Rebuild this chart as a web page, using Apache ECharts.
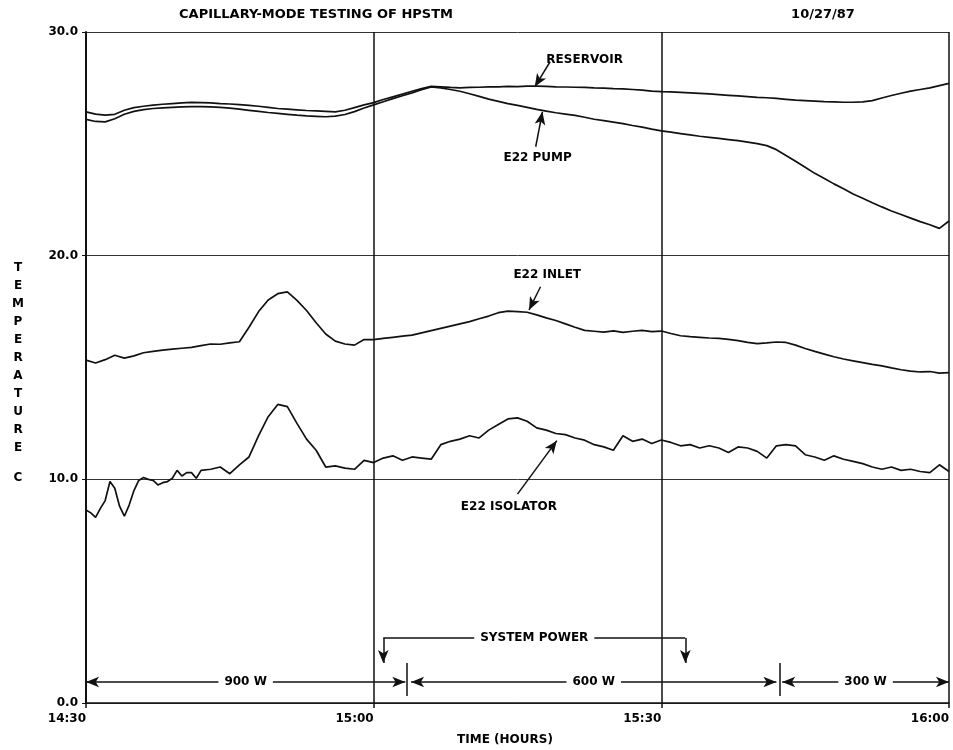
<!DOCTYPE html>
<html>
<head>
<meta charset="utf-8">
<script src="https://cdn.jsdelivr.net/npm/echarts@6/dist/echarts.min.js"></script>
<style>html,body{margin:0;padding:0;background:#fff}#c{width:953px;height:750px}</style>
</head>
<body>
<div id="c"></div>
<script>
// ---- DATA (minutes after 14:30, temperature in C) ----
const xTickLabels = ['14:30', '15:00', '15:30', '16:00'];
const yTickLabels = ['0.0', '10.0', '20.0', '30.0'];

const minutes = [0,1,2,3,4,5,6,7,8,9,10,11,12,13,14,15,16,17,18,19,20,21,22,23,24,25,26,27,28,29,30,
  31,32,33,34,35,36,37,38,39,40,41,42,43,44,45,46,47,48,49,50,51,52,53,54,55,56,57,58,59,60,
  61,62,63,64,65,66,67,68,69,70,71,72,73,74,75,76,77,78,79,80,81,82,83,84,85,86,87,88,89,90];

const reservoir = [26.43,26.33,26.28,26.32,26.50,26.62,26.68,26.73,26.77,26.80,26.83,26.85,26.84,26.83,26.80,26.78,26.75,26.72,26.68,26.63,26.58,
  26.55,26.52,26.49,26.47,26.45,26.43,26.50,26.62,26.74,26.84,
  26.98,27.10,27.22,27.35,27.47,27.57,27.55,27.52,27.50,27.52,27.53,27.55,27.55,27.57,27.56,27.58,27.58,27.57,27.55,27.54,
  27.53,27.52,27.50,27.49,27.47,27.46,27.43,27.40,27.36,27.33,
  27.32,27.30,27.28,27.26,27.23,27.20,27.17,27.14,27.11,27.08,27.06,27.03,26.99,26.95,26.93,26.91,26.89,26.88,26.86,26.86,
  26.88,26.93,27.05,27.16,27.26,27.36,27.43,27.50,27.60,27.70];

const pump = [26.09,26.00,25.98,26.12,26.32,26.45,26.53,26.58,26.61,26.63,26.65,26.66,26.66,26.65,26.63,26.60,26.55,26.50,26.45,26.40,26.36,
  26.32,26.28,26.25,26.23,26.21,26.24,26.31,26.44,26.60,26.74,
  26.88,27.02,27.15,27.28,27.42,27.54,27.50,27.43,27.35,27.24,27.12,27.00,26.90,26.80,26.72,26.63,26.54,26.46,26.39,26.33,
  26.27,26.19,26.10,26.04,25.97,25.90,25.82,25.75,25.66,25.58,
  25.52,25.46,25.40,25.34,25.29,25.24,25.19,25.14,25.08,25.01,24.92,24.74,24.48,24.22,23.95,23.68,23.45,23.21,22.99,22.76,
  22.57,22.37,22.18,22.00,21.84,21.68,21.52,21.38,21.22,21.55];

const inlet = [15.33,15.20,15.35,15.55,15.42,15.52,15.66,15.72,15.78,15.82,15.86,15.90,15.98,16.05,16.04,16.10,16.15,16.80,17.50,18.02,18.30,
  18.38,18.00,17.55,17.00,16.50,16.18,16.05,16.00,16.25,16.25,
  16.30,16.35,16.40,16.45,16.55,16.65,16.75,16.85,16.95,17.05,17.18,17.30,17.45,17.52,17.50,17.47,17.35,17.22,17.10,16.95,
  16.80,16.66,16.62,16.58,16.64,16.57,16.62,16.66,16.60,16.63,
  16.52,16.42,16.38,16.35,16.32,16.30,16.26,16.20,16.12,16.07,16.10,16.14,16.12,16.00,15.85,15.72,15.60,15.48,15.38,15.30,
  15.22,15.14,15.07,14.98,14.90,14.84,14.80,14.82,14.75,14.77];

const isoMinutes = [0,0.5,1,1.5,2,2.5,3,3.5,4,4.5,5,5.5,6,6.5,7,7.5,8,8.5,9,9.5,10,10.5,11,11.5,12,
  13,14,15,16,17,18,19,20,21,22,23,24,25,26,27,28,29,30,
  31,32,33,34,35,36,37,38,39,40,41,42,43,44,45,46,47,48,49,50,51,52,53,54,55,56,57,58,59,60,
  61,62,63,64,65,66,67,68,69,70,71,72,73,74,75,76,77,78,79,80,81,82,83,84,85,86,87,88,89,90];

const isolator = [8.63,8.50,8.30,8.70,9.05,9.90,9.60,8.80,8.35,8.85,9.50,9.95,10.08,10.00,9.95,9.75,9.85,9.90,10.05,10.40,10.15,10.30,10.30,10.05,10.40,
  10.45,10.55,10.25,10.65,11.00,11.95,12.80,13.35,13.25,12.50,11.80,11.30,10.55,10.60,10.50,10.45,10.85,10.75,
  10.95,11.05,10.85,11.00,10.95,10.90,11.55,11.70,11.80,11.95,11.85,12.20,12.45,12.70,12.75,12.60,12.30,12.20,12.05,12.00,
  11.85,11.75,11.55,11.45,11.30,11.95,11.70,11.80,11.60,11.76,
  11.65,11.50,11.55,11.40,11.50,11.40,11.20,11.45,11.40,11.25,10.95,11.50,11.55,11.50,11.10,11.00,10.85,11.05,10.90,10.80,
  10.70,10.55,10.45,10.55,10.40,10.45,10.35,10.30,10.65,10.35];

// annotation labels (data coordinates: minute, temperature)
const seriesLabels = ['RESERVOIR', 'E22 PUMP', 'E22 INLET', 'E22 ISOLATOR'];
const labelPos = [[52.0, 28.74], [47.1, 24.36], [48.1, 19.13], [44.1, 8.76]];
const pointerFrom = [[48.4, 28.67], [46.9, 24.87], [47.4, 18.61], [45.0, 9.34]];
const pointerTo = [[46.8, 27.55], [47.6, 26.43], [46.2, 17.57], [49.1, 11.73]];

const powerLabels = ['900 W', '600 W', '300 W'];
const powerStart = [0, 33.9, 72.6];
const powerEnd = [33.3, 72.0, 90];
const powerLevel = 0.94;
const powerDividers = [33.5, 72.3];
const dividerRange = [0.31, 1.79];
const systemPowerLabel = 'SYSTEM POWER';
const systemPowerFrom = 31.0;
const systemPowerTo = 62.5;
const systemPowerLevel = 2.91;
const systemPowerTip = 1.79;

// ---- CHART ----
const FONT = '"DejaVu Sans", "Liberation Sans", Arial, sans-serif';
const txt = {color: '#000', fontFamily: FONT, fontWeight: 'bold', fontSize: 12};
const zip = (xs, ys) => xs.map((x, i) => [x, ys[i]]);

const lineStyleData = {color: '#111', width: 1.7};
function lineSeries(name, xs, ys, extra) {
  return Object.assign({
    name, type: 'line', data: zip(xs, ys), showSymbol: false, symbol: 'none',
    lineStyle: lineStyleData, z: 5, silent: true
  }, extra || {});
}

const midLabel = text => ({show: true, formatter: text, position: 'insideMiddle', backgroundColor: '#fff', padding: [1, 6], ...txt});

const arrowLines = [];
for (let i = 0; i < seriesLabels.length; i++) {
  arrowLines.push([{coord: pointerFrom[i], symbol: 'none'}, {coord: pointerTo[i], symbol: 'arrow', symbolSize: [8, 13]}]);
}
for (let i = 0; i < powerLabels.length; i++) {
  arrowLines.push([
    {coord: [powerStart[i], powerLevel], symbol: 'arrow', symbolSize: [8, 13], label: midLabel(powerLabels[i])},
    {coord: [powerEnd[i], powerLevel], symbol: 'arrow', symbolSize: [8, 13]}
  ]);
}
powerDividers.forEach(d => {
  arrowLines.push([{coord: [d, dividerRange[0]], symbol: 'none'}, {coord: [d, dividerRange[1]], symbol: 'none'}]);
});
arrowLines.push([
  {coord: [systemPowerFrom, systemPowerLevel], symbol: 'none', label: midLabel(systemPowerLabel)},
  {coord: [systemPowerTo, systemPowerLevel], symbol: 'none'}
]);
[systemPowerFrom, systemPowerTo].forEach(m => {
  arrowLines.push([{coord: [m, systemPowerLevel], symbol: 'none'}, {coord: [m, systemPowerTip], symbol: 'arrow', symbolSize: [8, 13]}]);
});

const chart = echarts.init(document.getElementById('c'), null, {renderer: 'canvas'});
chart.setOption({
  animation: false,
  backgroundColor: '#fff',
  grid: {left: 86, right: 4, top: 32, bottom: 47, show: false},
  xAxis: {
    type: 'value', min: 0, max: 90, interval: 30,
    axisLine: {show: true, onZero: false, lineStyle: {color: '#111', width: 1.5}},
    axisTick: {show: true, length: 5, lineStyle: {color: '#111', width: 1.5}},
    axisLabel: {formatter: v => xTickLabels[Math.round(v / 30)], align: 'right', margin: 10, ...txt},
    splitLine: {show: true, lineStyle: {color: '#111', width: 1.5}}
  },
  yAxis: {
    type: 'value', min: 0, max: 30, interval: 10,
    axisLine: {show: true, lineStyle: {color: '#111', width: 2}},
    axisTick: {show: true, length: 4, lineStyle: {color: '#111', width: 1}},
    axisLabel: {formatter: v => yTickLabels[Math.round(v / 10)], margin: 8, ...txt},
    splitLine: {show: true, lineStyle: {color: '#333', width: 1}}
  },
  graphic: [
    {type: 'text', x: 316, y: 15, style: {text: 'CAPILLARY-MODE TESTING OF HPSTM', align: 'center', verticalAlign: 'middle', fill: '#000', font: 'bold 13px ' + FONT}},
    {type: 'text', x: 823, y: 15, style: {text: '10/27/87', align: 'center', verticalAlign: 'middle', fill: '#000', font: 'bold 13px ' + FONT}},
    {type: 'text', x: 505, y: 740, style: {text: 'TIME (HOURS)', align: 'center', verticalAlign: 'middle', fill: '#000', font: 'bold 12px ' + FONT}},
    {type: 'text', x: 18, y: 259, style: {text: 'T\nE\nM\nP\nE\nR\nA\nT\nU\nR\nE', align: 'center', verticalAlign: 'top', lineHeight: 18, fill: '#000', font: 'bold 12px ' + FONT}},
    {type: 'text', x: 18, y: 478, style: {text: 'C', align: 'center', verticalAlign: 'middle', fill: '#000', font: 'bold 12px ' + FONT}}
  ],
  series: [
    lineSeries('RESERVOIR', minutes, reservoir, {
      markLine: {silent: true, animation: false, precision: 3,
        lineStyle: {color: '#111', width: 1.5, type: 'solid'}, label: {show: false},
        data: arrowLines},
      markPoint: {silent: true, animation: false, symbol: 'rect', symbolSize: 1,
        itemStyle: {color: 'rgba(0,0,0,0)'},
        label: {show: true, position: 'inside', formatter: p => p.name, ...txt},
        data: seriesLabels.map((n, i) => ({name: n, coord: labelPos[i]}))}
    }),
    lineSeries('E22 PUMP', minutes, pump),
    lineSeries('E22 INLET', minutes, inlet),
    lineSeries('E22 ISOLATOR', isoMinutes, isolator)
  ]
});
</script>
</body>
</html>
